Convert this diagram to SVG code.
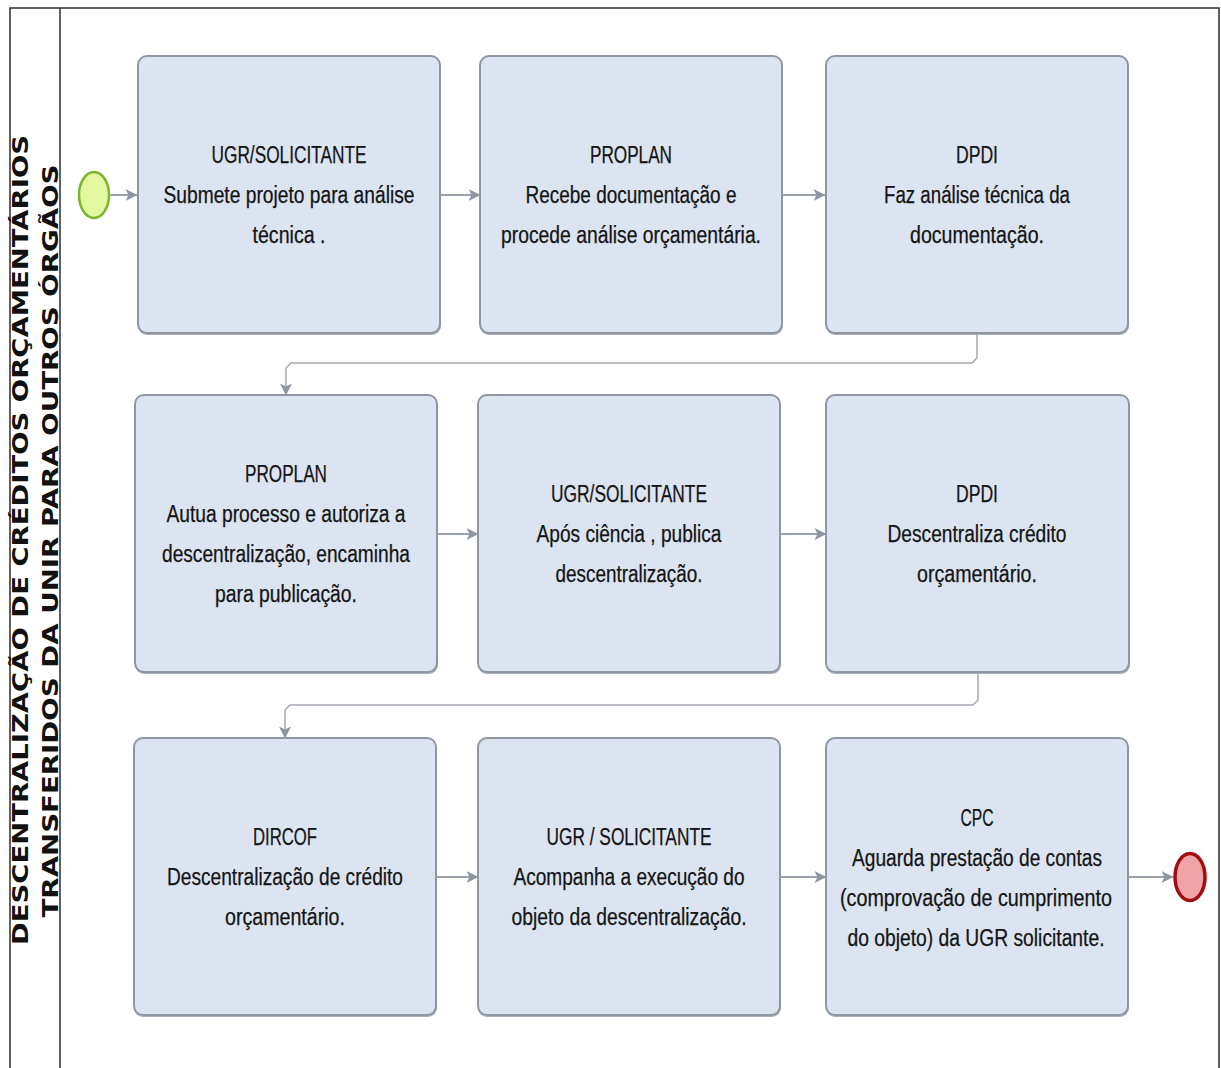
<svg xmlns="http://www.w3.org/2000/svg" width="1221" height="1068" viewBox="0 0 1221 1068">
  <style>
    .pool { fill: none; stroke: #2b2b2b; stroke-width: 1.5; }
    .lane-title { font-family: "DejaVu Sans", "Liberation Sans", sans-serif; font-weight: bold; font-size: 22px; fill: #111; }
    .task { fill: #dbe4f0; stroke: #8e96a1; stroke-width: 2; }
    .task-shadow { fill: #a9b0b9; }
    .label { font-family: "Liberation Sans", Arial, sans-serif; font-size: 23px; fill: #141414; stroke: #141414; stroke-width: 0.25; text-anchor: middle; }
    .flow { fill: none; stroke: #9aa2ac; stroke-width: 2; }
    .elbow { fill: none; stroke: #a3aab3; stroke-width: 1.5; }
    .start { fill: #e3f8a0; stroke: #7ab52a; stroke-width: 2.5; }
    .end { fill: #efa5a8; stroke: #a30d12; stroke-width: 3.5; }
  </style>
  <defs>
    <marker id="arrow" viewBox="0 0 12 12" refX="11.5" refY="6" markerWidth="12" markerHeight="12" markerUnits="userSpaceOnUse" orient="auto">
      <path d="M0,0 L12,6 L0,12 L3,6 Z" fill="#8e96a1"/>
    </marker>
  </defs>

  <rect width="1221" height="1068" fill="#ffffff"/>

  <!-- Pool and lane header -->
  <g id="pool">
    <path class="pool" d="M10,1068 V8 H1219 V1068"/>
    <line class="pool" x1="60" y1="8" x2="60" y2="1068"/>
    <text class="lane-title" transform="translate(28,540) rotate(-90)" text-anchor="middle" textLength="810" lengthAdjust="spacingAndGlyphs">DESCENTRALIZAÇÃO DE CRÉDITOS ORÇAMENTÁRIOS</text>
    <text class="lane-title" transform="translate(58,541) rotate(-90)" text-anchor="middle" textLength="753" lengthAdjust="spacingAndGlyphs">TRANSFERIDOS DA UNIR PARA OUTROS ÓRGÃOS</text>
  </g>

  <!-- Sequence flows -->
  <g id="connectors">
    <path class="flow" d="M110,195 H137" marker-end="url(#arrow)"/>
    <path class="flow" d="M441,195 H480" marker-end="url(#arrow)"/>
    <path class="flow" d="M782,195 H825" marker-end="url(#arrow)"/>
    <path class="elbow" d="M977,334 V358 L972,363 H291 L286,368 V395" marker-end="url(#arrow)"/>
    <path class="flow" d="M437,534 H478" marker-end="url(#arrow)"/>
    <path class="flow" d="M780,534 H826" marker-end="url(#arrow)"/>
    <path class="elbow" d="M978,674 V700 L973,705 H290 L285,710 V738" marker-end="url(#arrow)"/>
    <path class="flow" d="M436,877 H478" marker-end="url(#arrow)"/>
    <path class="flow" d="M780,877 H826" marker-end="url(#arrow)"/>
    <path class="flow" d="M1128,877 H1173" marker-end="url(#arrow)"/>
  </g>

  <!-- Events -->
  <g id="start-event">
    <ellipse class="start" cx="94" cy="195" rx="15" ry="23"/>
  </g>
  <g id="end-event">
    <ellipse class="end" cx="1190" cy="877" rx="15" ry="23.5"/>
  </g>

  <!-- Row 1 -->
  <g id="task-1">
    <rect class="task-shadow" x="138" y="58" width="303" height="277" rx="9"/>
    <rect class="task" x="138" y="56" width="302" height="277" rx="9"/>
    <text class="label" x="289" y="163" textLength="155" lengthAdjust="spacingAndGlyphs">UGR/SOLICITANTE</text>
    <text class="label" x="289" y="203" textLength="251" lengthAdjust="spacingAndGlyphs">Submete projeto para análise</text>
    <text class="label" x="289" y="243" textLength="73" lengthAdjust="spacingAndGlyphs">técnica .</text>
  </g>
  <g id="task-2">
    <rect class="task-shadow" x="480" y="58" width="303" height="277" rx="9"/>
    <rect class="task" x="480" y="56" width="302" height="277" rx="9"/>
    <text class="label" x="631" y="163" textLength="82" lengthAdjust="spacingAndGlyphs">PROPLAN</text>
    <text class="label" x="631" y="203" textLength="211" lengthAdjust="spacingAndGlyphs">Recebe documentação e</text>
    <text class="label" x="631" y="243" textLength="260" lengthAdjust="spacingAndGlyphs">procede análise orçamentária.</text>
  </g>
  <g id="task-3">
    <rect class="task-shadow" x="826" y="58" width="303" height="277" rx="9"/>
    <rect class="task" x="826" y="56" width="302" height="277" rx="9"/>
    <text class="label" x="977" y="163" textLength="42" lengthAdjust="spacingAndGlyphs">DPDI</text>
    <text class="label" x="977" y="203" textLength="186" lengthAdjust="spacingAndGlyphs">Faz análise técnica da</text>
    <text class="label" x="977" y="243" textLength="134" lengthAdjust="spacingAndGlyphs">documentação.</text>
  </g>

  <!-- Row 2 -->
  <g id="task-4">
    <rect class="task-shadow" x="135" y="397" width="303" height="277" rx="9"/>
    <rect class="task" x="135" y="395" width="302" height="277" rx="9"/>
    <text class="label" x="286" y="482" textLength="82" lengthAdjust="spacingAndGlyphs">PROPLAN</text>
    <text class="label" x="286" y="522" textLength="239" lengthAdjust="spacingAndGlyphs">Autua processo e autoriza a</text>
    <text class="label" x="286" y="562" textLength="248" lengthAdjust="spacingAndGlyphs">descentralização, encaminha</text>
    <text class="label" x="286" y="602" textLength="142" lengthAdjust="spacingAndGlyphs">para publicação.</text>
  </g>
  <g id="task-5">
    <rect class="task-shadow" x="478" y="397" width="303" height="277" rx="9"/>
    <rect class="task" x="478" y="395" width="302" height="277" rx="9"/>
    <text class="label" x="629" y="502" textLength="156" lengthAdjust="spacingAndGlyphs">UGR/SOLICITANTE</text>
    <text class="label" x="629" y="542" textLength="185" lengthAdjust="spacingAndGlyphs">Após ciência , publica</text>
    <text class="label" x="629" y="582" textLength="147" lengthAdjust="spacingAndGlyphs">descentralização.</text>
  </g>
  <g id="task-6">
    <rect class="task-shadow" x="826" y="397" width="304" height="277" rx="9"/>
    <rect class="task" x="826" y="395" width="303" height="277" rx="9"/>
    <text class="label" x="977" y="502" textLength="42" lengthAdjust="spacingAndGlyphs">DPDI</text>
    <text class="label" x="977" y="542" textLength="179" lengthAdjust="spacingAndGlyphs">Descentraliza crédito</text>
    <text class="label" x="977" y="582" textLength="120" lengthAdjust="spacingAndGlyphs">orçamentário.</text>
  </g>

  <!-- Row 3 -->
  <g id="task-7">
    <rect class="task-shadow" x="134" y="740" width="303" height="277" rx="9"/>
    <rect class="task" x="134" y="738" width="302" height="277" rx="9"/>
    <text class="label" x="285" y="845" textLength="64" lengthAdjust="spacingAndGlyphs">DIRCOF</text>
    <text class="label" x="285" y="885" textLength="236" lengthAdjust="spacingAndGlyphs">Descentralização de crédito</text>
    <text class="label" x="285" y="925" textLength="120" lengthAdjust="spacingAndGlyphs">orçamentário.</text>
  </g>
  <g id="task-8">
    <rect class="task-shadow" x="478" y="740" width="303" height="277" rx="9"/>
    <rect class="task" x="478" y="738" width="302" height="277" rx="9"/>
    <text class="label" x="629" y="845" textLength="165" lengthAdjust="spacingAndGlyphs">UGR / SOLICITANTE</text>
    <text class="label" x="629" y="885" textLength="231" lengthAdjust="spacingAndGlyphs">Acompanha a execução do</text>
    <text class="label" x="629" y="925" textLength="235" lengthAdjust="spacingAndGlyphs">objeto da descentralização.</text>
  </g>
  <g id="task-9">
    <rect class="task-shadow" x="826" y="740" width="303" height="277" rx="9"/>
    <rect class="task" x="826" y="738" width="302" height="277" rx="9"/>
    <text class="label" x="977" y="826" textLength="33" lengthAdjust="spacingAndGlyphs">CPC</text>
    <text class="label" x="977" y="866" textLength="250" lengthAdjust="spacingAndGlyphs">Aguarda prestação de contas</text>
    <text class="label" x="976" y="906" textLength="272" lengthAdjust="spacingAndGlyphs">(comprovação de cumprimento</text>
    <text class="label" x="976" y="946" textLength="257" lengthAdjust="spacingAndGlyphs">do objeto) da UGR solicitante.</text>
  </g>
</svg>
